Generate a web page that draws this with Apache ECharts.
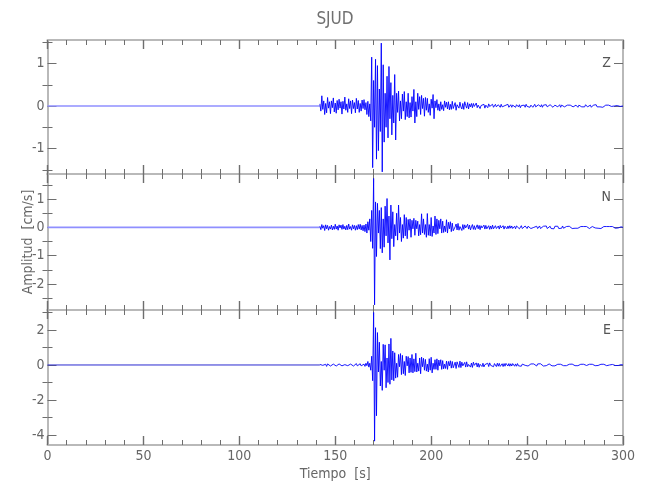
<!DOCTYPE html>
<html>
<head>
<meta charset="utf-8">
<script src="https://cdn.jsdelivr.net/npm/echarts@6/dist/echarts.min.js"></script>
<style>html,body{margin:0;padding:0;background:#fff;}#c{width:650px;height:500px;}</style>
</head>
<body>
<div id="c"></div>
<script>
// ---- data ----
const stationName = 'SJUD';
const componentNames = ['Z', 'N', 'E'];
const xTickLabels = [0, 50, 100, 150, 200, 250, 300];
const quietTimes = [0, 142];
const quietValues = [0, 0];
const sampleStart = 142;
const sampleStep = 0.5;

const zValues = [
0.05,-0.12,0.24,-0.08,0.12,-0.2,0.06,-0.16,0.2,-0.05,0.1,-0.18,0.12,-0.04,0.19,-0.14,0.07,-0.17,0.13,-0.09,
0.16,-0.05,0.1,-0.19,0.11,-0.07,0.21,-0.1,0.05,-0.15,0.17,-0.06,0.12,-0.18,0.14,-0.06,0.08,-0.16,0.18,-0.07,
0.13,-0.15,0.06,-0.12,0.14,-0.06,0.15,-0.09,0.08,-0.2,0.11,-0.25,0.05,-0.35,1.15,-1.45,0.6,-0.5,1.1,-1.25,
0.95,-1.05,0.4,-0.6,1.48,-1.55,0.97,-0.85,0.3,-0.5,0.7,-0.75,0.93,-0.3,0.55,-0.68,0.25,-0.4,0.74,-0.8,
0.3,-0.15,0.35,-0.35,0.12,-0.3,0.28,-0.12,0.34,-0.32,0.1,-0.25,0.3,-0.28,0.08,-0.26,0.22,-0.12,0.39,-0.4,
0.1,-0.25,0.3,-0.08,0.22,-0.2,0.25,-0.06,0.18,-0.24,0.2,-0.1,0.18,-0.15,0.05,-0.22,0.16,-0.05,0.27,-0.3,
0.12,-0.04,0.15,-0.1,0.05,-0.12,0.1,-0.08,0.03,-0.11,0.12,-0.03,0.09,-0.07,0.1,-0.09,0.04,-0.08,0.11,-0.06,
-0.06,0.08,-0.1,0.03,0.07,-0.05,0.09,-0.02,-0.07,0.06,-0.08,0.1,0.01,-0.05,0.08,-0.07,0.05,-0.02,0.06,-0.04,
0.06,-0.01,-0.05,0.07,-0.04,0.02,0.05,-0.06,0.01,0.05,-0.03,0.04,-0.05,0.02,0.03,-0.04,0.05,-0.01,-0.04,0.03,
0.04,-0.03,0.0,0.04,-0.02,-0.04,0.03,0.01,-0.03,0.04,-0.02,0.02,-0.04,0.01,0.03,-0.02,0.04,-0.03,0.0,0.03,
-0.03,0.02,0.04,-0.02,-0.03,0.03,0.0,-0.02,0.03,-0.04,0.01,0.03,-0.02,0.02,-0.03,0.04,-0.01,-0.02,0.03,-0.03,
0.02,0.03,-0.03,0.01,0.04,-0.02,-0.03,0.02,0.03,-0.01,-0.02,0.03,-0.03,0.02,0.0,-0.02,0.03,-0.02,0.02,-0.03,
0.03,-0.01,0.02,-0.03,0.01,0.02,-0.02,0.03,-0.02,0.0,0.03,-0.03,0.02,-0.01,0.03,-0.02,0.01,-0.03,0.02,0.01,
-0.02,0.02,-0.01,0.03,-0.02,0.01,-0.02,0.02,0.0,-0.03,0.02,-0.01,0.02,-0.02,0.01,0.02,-0.02,0.03,-0.01,-0.02,
0.02,-0.01,0.02,-0.03,0.01,0.02,-0.02,0.01,0.03,-0.02,0.0,0.02,-0.02,0.01,0.02,-0.03,0.01,-0.01,0.02,-0.02,
0.01,0.02,-0.02,0.01,-0.01,0.02,-0.01,0.0,0.02,-0.02,0.01,-0.01,0.02,-0.01,0.01,-0.01,0.0
];

const nValues = [
0.04,-0.08,0.1,-0.03,0.06,-0.11,0.09,-0.05,0.07,-0.1,0.03,-0.06,0.08,-0.09,0.04,-0.07,0.11,-0.06,0.05,-0.1,
0.09,-0.02,0.08,-0.07,0.1,-0.06,0.04,-0.09,0.07,-0.08,0.12,-0.06,0.03,-0.1,0.09,-0.05,0.07,-0.1,0.06,-0.08,
0.1,-0.06,0.11,-0.09,0.07,-0.12,0.08,-0.15,0.12,-0.2,0.2,-0.1,0.3,-0.5,0.6,-0.74,1.73,-2.74,0.9,-1.03,
0.85,-0.2,0.6,-0.75,0.7,-0.9,0.3,-0.7,0.75,-0.3,1.02,-0.55,0.4,-1.15,0.79,-0.4,0.55,-0.68,0.1,-0.3,
0.5,-0.45,0.79,-0.2,0.35,-0.5,0.1,-0.38,0.45,-0.3,0.35,-0.4,0.28,-0.1,0.3,-0.35,0.25,-0.05,0.32,-0.28,
0.25,-0.05,0.22,-0.3,0.1,-0.26,0.48,-0.2,0.3,-0.25,0.1,-0.35,0.49,-0.28,0.1,-0.3,0.35,-0.32,0.05,-0.2,
0.4,-0.25,0.3,-0.22,0.25,-0.05,0.3,-0.2,0.22,-0.18,0.05,-0.15,0.27,-0.2,0.18,-0.05,0.2,-0.15,0.15,-0.12,
-0.1,0.02,0.12,-0.09,0.14,-0.1,0.03,0.08,-0.11,0.1,-0.07,0.09,-0.02,-0.08,0.11,-0.06,0.08,-0.09,0.02,0.1,
-0.07,0.06,-0.08,0.01,0.09,-0.05,0.07,-0.08,0.06,-0.02,-0.05,0.08,-0.06,0.07,-0.05,0.01,0.06,-0.07,0.05,-0.06,
0.08,-0.05,0.02,0.06,-0.04,-0.05,0.05,-0.06,0.07,-0.02,-0.05,0.06,-0.06,0.04,0.0,-0.05,0.05,-0.04,0.06,-0.03,
0.05,-0.04,-0.02,0.04,-0.05,0.05,-0.02,0.04,-0.05,0.01,0.06,-0.04,0.03,-0.05,0.05,-0.01,-0.04,0.04,-0.03,0.05,
-0.04,0.03,-0.05,0.0,0.05,-0.03,0.04,-0.04,0.02,0.05,-0.04,0.03,-0.05,0.04,-0.01,-0.03,0.05,-0.04,0.03,-0.02,
0.04,-0.04,0.01,0.03,-0.05,0.04,-0.03,0.02,0.04,-0.04,0.03,-0.02,-0.03,0.05,-0.03,0.02,-0.04,0.03,0.01,-0.03,
0.04,-0.03,0.03,-0.04,0.0,0.03,-0.03,0.04,-0.02,-0.03,0.03,-0.04,0.03,0.01,-0.03,0.03,-0.04,0.02,0.03,-0.03,
0.02,-0.04,0.03,-0.01,0.03,-0.03,0.04,-0.02,-0.03,0.03,-0.03,0.02,0.03,-0.04,0.02,-0.02,0.03,-0.03,0.0,0.03,
-0.03,0.02,0.03,-0.02,-0.03,0.03,-0.02,0.02,-0.03,0.03,0.0,-0.02,0.03,-0.02,0.02,-0.02,0.0
];

const eValues = [
0.03,-0.06,0.08,-0.02,0.05,-0.07,0.04,-0.08,0.06,-0.03,0.08,-0.06,0.02,-0.07,0.05,-0.04,0.08,-0.06,0.03,-0.07,
0.06,-0.03,0.07,-0.05,0.06,-0.08,0.02,-0.05,0.08,-0.04,0.06,-0.07,0.05,-0.02,0.07,-0.06,0.03,-0.05,0.08,-0.05,
0.06,-0.02,0.07,-0.05,0.03,-0.06,0.05,-0.08,0.1,-0.04,0.2,-0.12,0.1,-0.3,0.5,-0.9,3.0,-4.35,2.13,-2.9,
1.85,-0.4,1.3,-1.2,0.2,-1.45,1.18,-0.3,1.15,-1.3,0.4,-1.0,1.2,-1.1,1.52,-0.85,0.8,-0.9,0.7,-0.75,
0.1,-0.7,0.6,-0.1,0.65,-0.55,0.55,-0.5,0.2,-0.6,0.5,-0.05,0.48,-0.45,0.4,-0.42,0.6,-0.45,0.35,-0.38,
0.67,-0.4,0.1,-0.35,0.4,-0.5,0.45,-0.1,0.38,-0.3,0.32,-0.35,0.05,-0.4,0.36,-0.3,0.44,-0.45,0.1,-0.25,
0.3,-0.25,0.35,-0.3,0.28,-0.05,0.3,-0.25,0.25,-0.22,0.05,-0.2,0.22,-0.25,0.2,-0.05,0.24,-0.18,0.2,-0.16,
-0.18,0.16,-0.2,0.18,0.02,-0.14,0.22,-0.15,0.16,-0.05,-0.12,0.15,-0.12,0.18,-0.1,0.03,0.14,-0.12,0.11,-0.14,
0.16,-0.02,-0.1,0.12,-0.11,0.1,-0.13,0.04,0.12,-0.09,0.1,-0.11,0.02,0.13,-0.08,0.1,-0.09,0.12,-0.02,-0.08,
0.09,-0.1,0.08,-0.02,-0.09,0.1,-0.07,0.09,-0.08,0.01,0.07,-0.09,0.08,-0.07,0.09,-0.02,-0.06,0.08,-0.07,0.07,
-0.06,0.08,-0.02,-0.07,0.06,-0.07,0.08,-0.05,0.01,0.06,-0.07,0.05,-0.06,0.07,-0.02,-0.05,0.06,-0.06,0.05,-0.07,
0.06,-0.05,0.0,0.06,-0.05,0.05,-0.06,0.06,-0.02,-0.05,0.07,-0.04,0.05,-0.06,0.02,0.05,-0.04,0.05,-0.05,0.06,
-0.04,0.05,-0.05,0.01,0.04,-0.05,0.06,-0.04,0.04,-0.01,-0.05,0.04,-0.04,0.05,-0.04,0.0,0.05,-0.04,0.04,-0.05,
0.04,-0.04,0.01,0.05,-0.04,0.04,-0.04,0.05,-0.02,-0.04,0.04,-0.05,0.04,-0.04,0.01,0.04,-0.04,0.05,-0.03,0.04,
-0.04,0.04,-0.01,-0.04,0.04,-0.04,0.03,-0.04,0.04,0.0,-0.03,0.04,-0.04,0.04,-0.03,0.01,0.04,-0.04,0.03,-0.04,
0.03,-0.03,0.0,0.04,-0.03,0.03,-0.04,0.03,-0.03,0.02,0.03,-0.03,0.03,-0.02,0.02,-0.03,0.0
];

// y-axis ranges and ticks per panel
const yMins = [-1.6, -2.92, -4.57];
const yMaxs = [1.553, 1.887, 3.14];
const yMajorTicks = [[-1, 0, 1], [-2, -1, 0, 1], [-4, -2, 0, 2]];
const yMinorTicks = [[-1.5, -0.5, 0.5, 1.5], [-2.5, -1.5, -0.5, 0.5, 1.5], [-3, -1, 1, 3]];

// ---- font selection (pick an installed narrow face if there is one) ----
function pickFont(cands) {
  const ctx = document.createElement('canvas').getContext('2d');
  const txt = 'Tiempo [s] Amplitud 0123456789 mmWW';
  for (const f of cands) {
    ctx.font = '40px monospace'; const m0 = ctx.measureText(txt).width;
    ctx.font = '40px "' + f + '", monospace'; const m1 = ctx.measureText(txt).width;
    ctx.font = '40px serif'; const s0 = ctx.measureText(txt).width;
    ctx.font = '40px "' + f + '", serif'; const s1 = ctx.measureText(txt).width;
    if (Math.abs(m1 - s1) < 0.01 && (Math.abs(m1 - m0) > 0.01 || Math.abs(s1 - s0) > 0.01)) return f;
  }
  return 'Liberation Sans';
}
const FONT_FACE = pickFont(['Liberation Sans Narrow', 'DejaVu Sans Condensed', 'Roboto Condensed', 'Open Sans Condensed', 'Arial Narrow', 'Liberation Sans']);
const FONT = '"' + FONT_FACE + '", sans-serif';
const NARROW = FONT_FACE !== 'Liberation Sans';
const FS = NARROW ? 13 : 12;

// ---- chart ----
const AXIS_GREY = '#b9b9b9';
const TICK_GREY = '#6e6e6e';
const LABEL_GREY = '#666666';

const grids = [
  { left: 47.5, right: 27, top: 40, height: 134 },
  { left: 47.5, right: 27, top: 174, height: 136 },
  { left: 47.5, right: 27, top: 310, height: 135 }
];

function buildSeries(vals) {
  const d = [];
  for (let i = 0; i < vals.length; i++) d.push([sampleStart + i * sampleStep, vals[i]]);
  return d;
}
function buildQuiet() {
  return quietTimes.map((t, i) => [t, quietValues[i]]);
}

const xAxes = [];
const yAxes = [];
const series = [];
const allValues = [zValues, nValues, eValues];

for (let g = 0; g < 3; g++) {
  ['bottom', 'top'].forEach(pos => {
    const isLabelled = (g === 2 && pos === 'bottom');
    xAxes.push({
      type: 'value', gridIndex: g, position: pos, min: 0, max: 300, interval: 50,
      axisLine: { show: true, onZero: false, lineStyle: { color: AXIS_GREY, width: 2 } },
      axisTick: { show: true, inside: true, length: 9, lineStyle: { color: TICK_GREY, width: 1.4 } },
      minorTick: { show: true, splitNumber: 5, length: 5, lineStyle: { color: TICK_GREY, width: 1 } },
      splitLine: { show: false },
      minorSplitLine: { show: false },
      axisLabel: {
        show: isLabelled, margin: 4, color: LABEL_GREY, fontSize: FS + 1, fontFamily: FONT,
        customValues: xTickLabels
      },
      name: isLabelled ? 'Tiempo  [s]' : '',
      nameLocation: 'middle', nameGap: 22, nameMoveOverlap: false,
      nameTextStyle: { color: LABEL_GREY, fontSize: FS + 1, fontFamily: FONT }
    });
  });
  ['left', 'right'].forEach(pos => {
    yAxes.push({
      type: 'value', gridIndex: g, position: pos, min: yMins[g], max: yMaxs[g],
      axisLine: { show: true, onZero: false, lineStyle: { color: AXIS_GREY, width: 2 } },
      axisTick: { show: true, inside: true, length: 9, customValues: yMajorTicks[g], lineStyle: { color: TICK_GREY, width: 1 } },
      splitLine: { show: false },
      axisLabel: {
        show: pos === 'left', customValues: yMajorTicks[g], margin: 3,
        color: LABEL_GREY, fontSize: FS + 1, fontFamily: FONT
      },
      name: (g === 1 && pos === 'left') ? 'Amplitud  [cm/s]' : '',
      nameLocation: 'middle', nameGap: 12, nameRotate: 90, nameMoveOverlap: false,
      nameTextStyle: { color: LABEL_GREY, fontSize: FS + 1, fontFamily: FONT }
    });
    yAxes.push({
      type: 'value', gridIndex: g, position: pos, min: yMins[g], max: yMaxs[g],
      axisLine: { show: false },
      axisTick: { show: true, inside: true, length: 5, customValues: yMinorTicks[g], lineStyle: { color: TICK_GREY, width: 1 } },
      splitLine: { show: false },
      axisLabel: { show: false }
    });
  });
  series.push({
    type: 'line', xAxisIndex: g * 2, yAxisIndex: g * 4,
    data: buildQuiet(), showSymbol: false, silent: true,
    lineStyle: { color: g === 2 ? '#2a2ad0' : '#8f8fff', width: g === 2 ? 1 : 1.6 }
  });
  series.push({
    type: 'line', xAxisIndex: g * 2, yAxisIndex: g * 4,
    data: buildSeries(allValues[g]), showSymbol: false, silent: true,
    lineStyle: { color: '#0000ff', width: 0.9 }
  });
}

const labelYs = [63, 197, 330];
const graphics = [{
  type: 'text', x: 335, y: 20,
  style: { text: stationName, align: 'center', verticalAlign: 'middle', fill: '#707070', fontSize: FS + 4, fontFamily: FONT }
}];
componentNames.forEach((c, i) => {
  graphics.push({
    type: 'text', x: 611, y: labelYs[i],
    style: { text: c, align: 'right', verticalAlign: 'middle', fill: '#555555', fontSize: FS + 1, fontFamily: FONT }
  });
});

const chart = echarts.init(document.getElementById('c'), null, { renderer: 'canvas' });
chart.setOption({
  animation: false,
  backgroundColor: '#ffffff',
  grid: grids,
  xAxis: xAxes,
  yAxis: yAxes,
  series: series,
  graphic: graphics
});
</script>
</body>
</html>
